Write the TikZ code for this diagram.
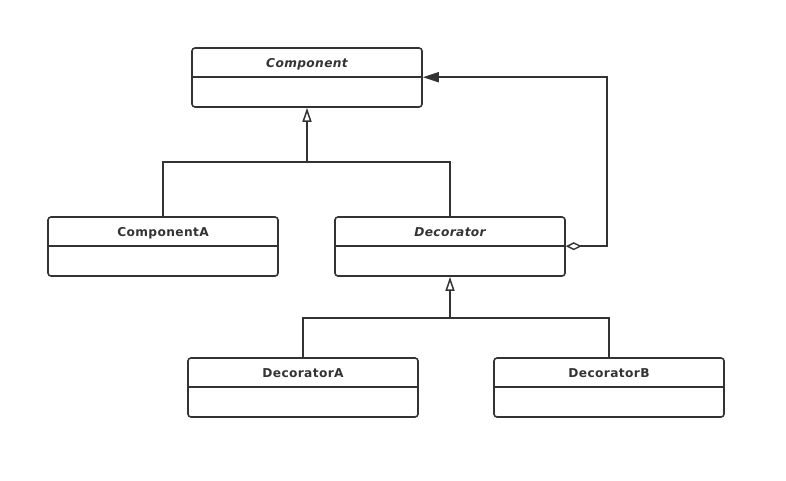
\documentclass[tikz,border=0pt]{standalone}
\usepackage{fontspec}
\setmainfont{DejaVu Sans}[LetterSpace=3]
\usetikzlibrary{arrows.meta,calc}
\definecolor{ink}{HTML}{333333}
\tikzset{
  x=1pt, y=1pt,
  cls/.style={draw=ink, line width=1.6pt, rounded corners=3pt, minimum width=230pt, minimum height=59pt, inner sep=0pt},
  ttl/.style={text=ink, font=\bfseries\fontsize{12.2}{14}\selectfont, inner sep=0pt},
  ittl/.style={ttl, font=\bfseries\itshape\fontsize{12.2}{14}\selectfont},
  conn/.style={draw=ink, line width=1.6pt},
  inh/.style={conn, -{Triangle[open, length=14pt, width=9pt, line width=1.5pt]}},
}
\begin{document}
\begin{tikzpicture}
\useasboundingbox (0,0) rectangle (786,-480);
% classes
\node[cls] (comp) at (307,-77.5) {};
\node[cls] (compA) at (163,-246.5) {};
\node[cls] (dec) at (450,-246.5) {};
\node[cls] (decA) at (303,-387.5) {};
\node[cls] (decB) at (609,-387.5) {};
% dividers and titles
\foreach \n/\t/\s in {comp/Component/ittl, compA/ComponentA/ttl, dec/Decorator/ittl, decA/DecoratorA/ttl, decB/DecoratorB/ttl}{
  \coordinate (\n-dl) at ([yshift=-30pt]\n.north west);
  \coordinate (\n-dr) at ([yshift=-30pt]\n.north east);
  \draw[conn] (\n-dl) -- (\n-dr);
  \node[\s, anchor=base] (\n-t) at ([yshift=-20pt]\n.north) {\t};
}
% inheritance Component
\coordinate (j1) at (307,-162);
\draw[conn] (compA.north) |- (j1) -| (dec.north);
\draw[inh] (j1) -- (comp.south);
% inheritance Decorator
\coordinate (j2) at (450,-318);
\draw[conn] (decA.north) |- (j2) -| (decB.north);
\draw[inh] (j2) -- (dec.south);
% aggregation
\coordinate (bend) at (607,0);
\draw[conn, {Diamond[open, length=16pt, width=8pt, line width=1.4pt]}-{Triangle[length=16pt, width=10pt]}, rounded corners=0pt]
  (dec-dr) -- (bend |- dec-dr) |- (comp-dr);
\end{tikzpicture}
\end{document}
